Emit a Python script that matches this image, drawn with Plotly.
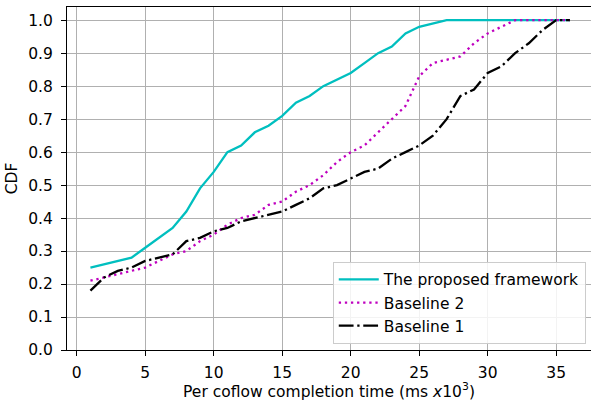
import plotly.graph_objects as go

x_vals = list(range(1, 37))
proposed = [0.25, 0.26, 0.27, 0.28, 0.31, 0.34, 0.37, 0.42, 0.49, 0.54, 0.60, 0.62,
            0.66, 0.68, 0.71, 0.75, 0.77, 0.80, 0.82, 0.84, 0.87, 0.90, 0.92, 0.96,
            0.98, 0.99, 1.0, 1.0, 1.0, 1.0, 1.0, 1.0, 1.0, 1.0, 1.0, 1.0]
baseline2 = [0.21, 0.22, 0.23, 0.24, 0.25, 0.27, 0.29, 0.30, 0.33, 0.35, 0.38, 0.40,
             0.41, 0.44, 0.45, 0.48, 0.50, 0.53, 0.57, 0.60, 0.62, 0.66, 0.70, 0.74,
             0.83, 0.87, 0.88, 0.89, 0.93, 0.96, 0.98, 1.0, 1.0, 1.0, 1.0, 1.0]
baseline1 = [0.18, 0.22, 0.24, 0.25, 0.27, 0.28, 0.29, 0.33, 0.34, 0.36, 0.37, 0.39,
             0.40, 0.41, 0.42, 0.44, 0.46, 0.49, 0.50, 0.52, 0.54, 0.55, 0.58, 0.60,
             0.62, 0.65, 0.70, 0.77, 0.79, 0.84, 0.86, 0.90, 0.93, 0.97, 1.0, 1.0]

x_ticks = [0, 5, 10, 15, 20, 25, 30, 35]
y_ticks = [round(0.1 * i, 1) for i in range(11)]

FONT = "DejaVu Sans"
FS = 15.5
LW = 2.3
fig = go.Figure()
fig.add_trace(go.Scatter(x=x_vals, y=proposed, mode="lines", name="The proposed framework",
                         line=dict(color="#00BFBF", width=LW)))
fig.add_trace(go.Scatter(x=x_vals, y=baseline2, mode="lines", name="Baseline 2",
                         line=dict(color="#BF00BF", width=LW, dash="2.3px,3.8px")))
fig.add_trace(go.Scatter(x=x_vals, y=baseline1, mode="lines", name="Baseline 1",
                         line=dict(color="#000000", width=LW, dash="14.8px,3.7px,2.3px,3.7px")))

fig.update_layout(
    width=591, height=401,
    margin=dict(l=67, r=0, t=7, b=51),
    plot_bgcolor="white", paper_bgcolor="white",
    font=dict(family=FONT, size=FS, color="#000000"),
    showlegend=True,
    legend=dict(x=0.99, y=0.018, xanchor="right", yanchor="bottom",
                bgcolor="rgba(255,255,255,0.85)", bordercolor="#cccccc", borderwidth=1,
                font=dict(family=FONT, size=FS, color="#000000"),
                itemwidth=40, tracegroupgap=0),
    xaxis=dict(range=[-0.71, 37.54], tickvals=x_ticks, ticktext=[str(v) for v in x_ticks],
               showgrid=True, gridcolor="#b0b0b0", gridwidth=1.2,
               showline=True, linecolor="black", linewidth=1.2, mirror=True,
               ticks="outside", ticklen=5, tickwidth=1.2, tickcolor="black",
               ticklabelstandoff=3,
               zeroline=False,
               title=dict(text="Per coflow completion time (ms <i>x</i>10<sup>3</sup>)",
                          standoff=3, font=dict(family=FONT, size=FS))),
    yaxis=dict(range=[0, 1.04], tickvals=y_ticks, ticktext=[f"{v:.1f}" for v in y_ticks],
               showgrid=True, gridcolor="#b0b0b0", gridwidth=1.2,
               showline=True, linecolor="black", linewidth=1.2, mirror=False,
               ticks="outside", ticklen=5, tickwidth=1.2, tickcolor="black",
               ticklabelstandoff=5,
               zeroline=False,
               title=dict(text="CDF", standoff=6, font=dict(family=FONT, size=FS))),
)

fig.write_html("out.html")
